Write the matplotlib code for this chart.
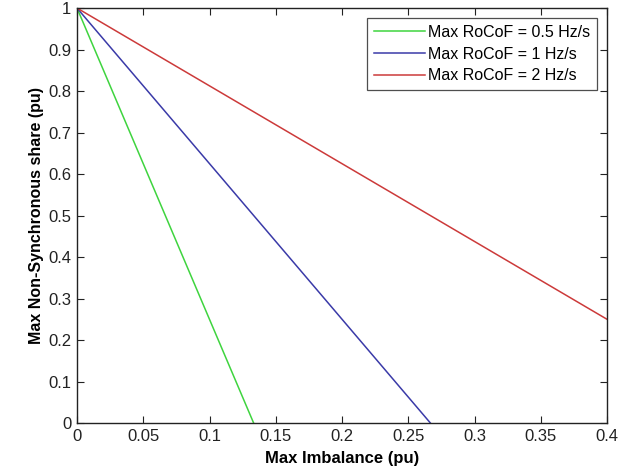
import numpy as np
import matplotlib
matplotlib.use('Agg')
import matplotlib.pyplot as plt

plt.rcParams['font.family'] = ['Liberation Sans', 'DejaVu Sans']

# imbalance values where each curve is evaluated (pu)
imbalance_05 = [0.0, 0.1333]
share_05 = [1.0, 0.0]
imbalance_1 = [0.0, 0.2667]
share_1 = [1.0, 0.0]
imbalance_2 = [0.0, 0.4]
share_2 = [1.0, 0.25]

labels = ['Max RoCoF = 0.5 Hz/s', 'Max RoCoF = 1 Hz/s', 'Max RoCoF = 2 Hz/s']
colors = ['#3fd43f', '#3a3aa8', '#cc3a3a']

fig = plt.figure(figsize=(6.25, 4.71), dpi=100)
ax = fig.add_axes([0.1232, 0.1019, 0.848, 0.881])

ax.plot(imbalance_05, share_05, color=colors[0], lw=1.1, label=labels[0])
ax.plot(imbalance_1, share_1, color=colors[1], lw=1.1, label=labels[1])
ax.plot(imbalance_2, share_2, color=colors[2], lw=1.1, label=labels[2])

ax.set_xlim(0, 0.4)
ax.set_ylim(0, 1)
ax.set_xticks(np.arange(0, 0.41, 0.05))
ax.set_xticklabels(['0', '0.05', '0.1', '0.15', '0.2', '0.25', '0.3', '0.35', '0.4'])
ax.set_yticks(np.arange(0, 1.01, 0.1))
ax.set_yticklabels(['0', '0.1', '0.2', '0.3', '0.4', '0.5', '0.6', '0.7', '0.8', '0.9', '1'])
ax.tick_params(direction='in', top=True, right=True, length=5, width=0.8,
               labelsize=12, colors='#222222', pad=4)
for s in ax.spines.values():
    s.set_linewidth(1.0)
    s.set_color('#222222')

ax.set_xlabel('Max Imbalance (pu)', fontsize=12, fontweight='bold', labelpad=5)
ax.set_ylabel('Max Non-Synchronous share (pu)', fontsize=11.5, fontweight='bold', labelpad=3)

leg = ax.legend(loc='upper right', fontsize=11.5, frameon=True, fancybox=False,
                edgecolor='#222222', handlelength=3.2, handletextpad=0.2,
                borderpad=0.45, labelspacing=0.42, borderaxespad=0.6)
leg.get_frame().set_linewidth(0.9)

fig.savefig('out.png', dpi=100)
